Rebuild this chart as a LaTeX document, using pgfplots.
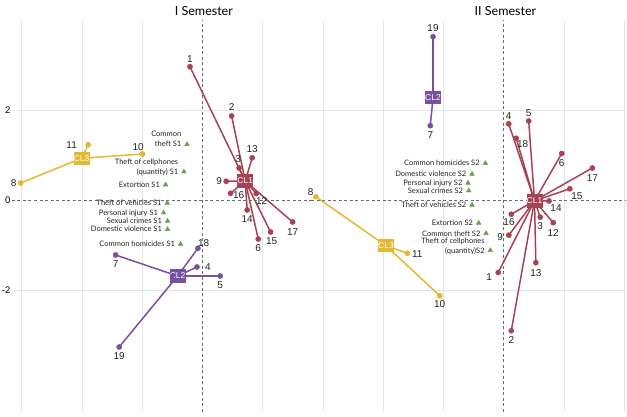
\documentclass[border=0pt]{standalone}
\usepackage{fontspec}
\setmainfont{Liberation Sans}
\newfontfamily\gill{Lato}
\usepackage{pgfplots}
\usepackage{pgfplotstable}
\pgfplotsset{compat=1.18}

\definecolor{clred}{RGB}{166,66,84}
\definecolor{clpur}{RGB}{120,80,160}
\definecolor{clyel}{RGB}{230,184,48}
\definecolor{trig}{RGB}{106,160,72}
\definecolor{gridc}{RGB}{226,230,235}
\definecolor{labc}{RGB}{35,35,35}

% two-line label, last line on the marker's baseline
\protected\def\twol#1#2{\begin{tabular}[b]{@{}r@{}}#1\\#2\end{tabular}}

% ---- I Semester ----
\pgfplotstableread[col sep=comma]{
x,y,cx,cy,lab,dx,dy
-0.207,2.962,0.710,0.422,1,0,8
0.485,1.867,0.710,0.422,2,0,9
0.609,0.711,0.710,0.422,3,-1,9
0.926,-0.867,0.710,0.422,6,0,-9
0.395,0.416,0.710,0.422,9,-7,0
0.893,0.144,0.710,0.422,12,5.5,-7.5
0.826,0.938,0.710,0.422,13,0,8.5
0.743,-0.222,0.710,0.422,14,0,-8.7
1.132,-0.711,0.710,0.422,15,1,-9
0.468,0.149,0.710,0.422,16,8,-2
1.497,-0.489,0.710,0.422,17,0,-9.7
}\aone
\pgfplotstableread[col sep=comma]{
x,y,cx,cy,lab,dx,dy
-0.075,-1.073,-0.412,-1.689,18,5.7,5
-0.091,-1.489,-0.412,-1.689,4,11,0
0.295,-1.689,-0.412,-1.689,5,0,-9
-1.440,-1.222,-0.412,-1.689,7,0,-9
-1.381,-3.267,-0.412,-1.689,19,0,-9.3
}\atwo
\pgfplotstableread[col sep=comma]{
x,y,cx,cy,lab,dx,dy
-1.895,1.229,-2.005,0.927,11,-16.6,0
-0.992,1.022,-2.005,0.927,10,-4.4,7.3
-3.017,0.378,-2.005,0.927,8,-7,0
}\athree
\pgfplotstableread[col sep=comma]{
x,y,lab
-0.257,1.238,\twol{Common}{theft  S1}
-0.307,0.629,\twol{Theft of cellphones}{(quantity) S1}
-0.611,0.340,Extortion  S1
-0.584,-0.067,Theft of vehicles  S1
-0.644,-0.282,Personal injury  S1
-0.578,-0.467,Sexual crimes  S1
-0.578,-0.651,Domestic violence  S1
-0.362,-0.978,Common homicides  S1
}\acrime

% ---- II Semester ----
\pgfplotstableread[col sep=comma]{
x,y,cx,cy,lab,dx,dy
-0.093,-1.611,0.509,-0.018,1,-9,-4.5
0.124,-2.904,0.509,-0.018,2,0,-9.3
0.604,-0.382,0.509,-0.018,3,0,-8.8
0.081,1.693,0.509,-0.018,4,0,8
0.413,1.756,0.509,-0.018,5,0,8
0.961,1.033,0.509,-0.018,6,0,-9.8
0.083,-0.782,0.509,-0.018,9,-8.8,-2
0.820,-0.504,0.509,-0.018,12,0,-10
0.531,-1.393,0.509,-0.018,13,0,-10
0.750,-0.022,0.509,-0.018,14,7,-6.7
1.095,0.249,0.509,-0.018,15,7,-7
0.124,-0.316,0.509,-0.018,16,-2.3,-7.5
1.469,0.711,0.509,-0.018,17,0,-10.3
0.206,1.371,0.509,-0.018,18,6.5,-6
}\bone
\pgfplotstableread[col sep=comma]{
x,y,cx,cy,lab,dx,dy
-1.175,3.629,-1.175,2.282,19,0,9
-1.220,1.651,-1.175,2.282,7,0,-9
}\btwo
\pgfplotstableread[col sep=comma]{
x,y,cx,cy,lab,dx,dy
-3.121,0.073,-1.955,-1.016,8,-5,4.4
-1.601,-1.184,-1.955,-1.016,11,10,-1
-1.064,-2.127,-1.955,-1.016,10,0,-8.3
}\bthree
\pgfplotstableread[col sep=comma]{
x,y,lab
-0.307,0.816,Common homicides  S2
-0.528,0.578,Domestic violence  S2
-0.594,0.378,Personal injury  S2
-0.582,0.207,Sexual crimes  S2
-0.528,-0.111,Theft of  vehicles  S2
-0.417,-0.511,Extortion  S2
-0.295,-0.740,Common theft  S2
-0.224,-1.118,\twol{Theft of cellphones}{(quantity)S2}
}\bcrime

\pgfplotsset{
  panel/.style={
    x=60.26pt, y=45pt,
    ymin=-4.711, ymax=4.0,
    axis line style={draw=none},
    major tick length=0pt,
    xtick={-3,-2,-1,1,2}, xticklabels={},
    xmajorgrids, ymajorgrids,
    major grid style={draw=gridc, line width=0.5pt},
    extra x ticks={0}, extra y ticks={0},
    extra x tick labels={},
    extra tick style={grid=major,
      major grid style={draw=black!58, line width=0.7pt, dash pattern=on 3pt off 2.5pt}},
    clip=false,
    title style={font=\gill\fontsize{12.5}{14}\selectfont, anchor=base, yshift=-1pt},
    tick label style={font=\fontsize{9.5}{11}\selectfont},
    yticklabel style={anchor=east, inner sep=0pt, xshift=-1.5pt},
  },
  star/.style={line width=1.5pt, quiver={u=\thisrow{cx}-\thisrow{x}, v=\thisrow{cy}-\thisrow{y}}},
  dots/.style={only marks, mark=*, mark size=2.6pt, nodes near coords, point meta=explicit symbolic,
    visualization depends on={\thisrow{dx}\as\labdx},
    visualization depends on={\thisrow{dy}\as\labdy},
    every node near coord/.append style={anchor=center, xshift=\labdx pt, yshift=\labdy pt,
      font=\fontsize{10}{11}\selectfont, text=labc, inner sep=0pt}},
  crimes/.style={only marks, mark=triangle*, mark size=2.7pt, color=trig,
    nodes near coords, point meta=explicit symbolic,
    every node near coord/.append style={anchor=base east, xshift=-5.5pt, yshift=-2.7pt,
      font=\gill\fontsize{7.5}{10}\selectfont, text=labc, inner sep=0pt}},
  box/.style={only marks, mark=none, nodes near coords, point meta=explicit symbolic,
    every node near coord/.append style={anchor=center, fill=#1, text=white,
      font=\fontsize{8.5}{9}\selectfont, inner sep=0pt, minimum width=16pt, minimum height=13.5pt}},
}

\begin{document}
\begin{tikzpicture}
\path[use as bounding box] (0pt,0pt) rectangle (627pt,417pt);

\begin{axis}[panel, at={(12pt,5pt)}, anchor=south west,
  xmin=-3.16, xmax=1.80,
  ytick={-2,2}, yticklabels={-2,2}, extra y tick labels={0},
  title={I Semester}, title style={at={(0.642,1)}}]
  \addplot[crimes] table[x=x, y=y, meta=lab] {\acrime};
  \addplot[clred, star] table[x=x, y=y] {\aone};
  \addplot[clpur, star] table[x=x, y=y] {\atwo};
  \addplot[clyel, star] table[x=x, y=y] {\athree};
  \addplot[clred, dots] table[x=x, y=y, meta=lab] {\aone};
  \addplot[clpur, dots] table[x=x, y=y, meta=lab] {\atwo};
  \addplot[clyel, dots] table[x=x, y=y, meta=lab] {\athree};
  \addplot[box=clred] table[col sep=comma, x=x, y=y, meta=lab] {
x,y,lab
0.710,0.422,CL1
};
  \addplot[box=clpur] table[col sep=comma, x=x, y=y, meta=lab] {
x,y,lab
-0.412,-1.689,CL2
};
  \addplot[box=clyel] table[col sep=comma, x=x, y=y, meta=lab] {
x,y,lab
-2.005,0.927,CL3
};
  \addplot[only marks, mark=*, mark size=2.2pt, clpur] table[col sep=comma, x=x, y=y] {
x,y
-0.501,-1.689
};
\end{axis}

\begin{axis}[panel, at={(311pt,5pt)}, anchor=south west,
  xmin=-3.20, xmax=2.03,
  ytick={-2,2}, yticklabels={}, extra y tick labels={},
  title={II Semester}, title style={at={(0.617,1)}}]
  \addplot[crimes] table[x=x, y=y, meta=lab] {\bcrime};
  \addplot[clred, star] table[x=x, y=y] {\bone};
  \addplot[clpur, star] table[x=x, y=y] {\btwo};
  \addplot[clyel, star] table[x=x, y=y] {\bthree};
  \addplot[clred, dots] table[x=x, y=y, meta=lab] {\bone};
  \addplot[clpur, dots] table[x=x, y=y, meta=lab] {\btwo};
  \addplot[clyel, dots] table[x=x, y=y, meta=lab] {\bthree};
  \addplot[box=clred] table[col sep=comma, x=x, y=y, meta=lab] {
x,y,lab
0.509,-0.018,CL1
};
  \addplot[box=clpur] table[col sep=comma, x=x, y=y, meta=lab] {
x,y,lab
-1.175,2.282,CL2
};
  \addplot[box=clyel] table[col sep=comma, x=x, y=y, meta=lab] {
x,y,lab
-1.955,-1.016,CL3
};
\end{axis}
\end{tikzpicture}
\end{document}
